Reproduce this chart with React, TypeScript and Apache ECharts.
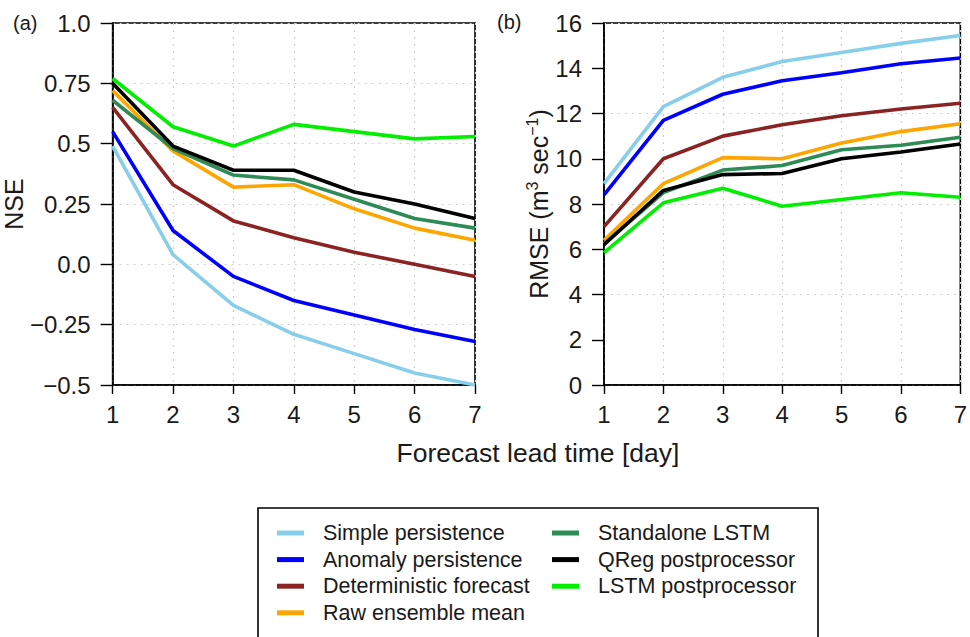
import React, { useEffect, useRef } from "react";
import * as echarts from "echarts";

const days = [1, 2, 3, 4, 5, 6, 7];
const seriesNames = [
  "Simple persistence",
  "Anomaly persistence",
  "Deterministic forecast",
  "Raw ensemble mean",
  "Standalone LSTM",
  "QReg postprocessor",
  "LSTM postprocessor",
];
const seriesColors = ["#87CEEB", "#0000FF", "#8B2323", "#FFA500", "#2E8B57", "#000000", "#00EE00"];

// NSE values (panel a)
const nseSimple = [0.49, 0.04, -0.17, -0.29, -0.37, -0.45, -0.5];
const nseAnomaly = [0.55, 0.14, -0.05, -0.15, -0.21, -0.27, -0.32];
const nseDeterministic = [0.65, 0.33, 0.18, 0.11, 0.05, 0.0, -0.05];
const nseRawMean = [0.72, 0.47, 0.32, 0.33, 0.23, 0.15, 0.1];
const nseStandalone = [0.68, 0.48, 0.37, 0.35, 0.27, 0.19, 0.15];
const nseQReg = [0.75, 0.49, 0.39, 0.39, 0.3, 0.25, 0.19];
const nseLstmPost = [0.77, 0.57, 0.49, 0.58, 0.55, 0.52, 0.53];

// RMSE values (panel b)
const rmseSimple = [8.9, 12.3, 13.6, 14.3, 14.7, 15.1, 15.45];
const rmseAnomaly = [8.4, 11.7, 12.85, 13.45, 13.8, 14.2, 14.45];
const rmseDeterministic = [7.0, 10.0, 11.0, 11.5, 11.9, 12.2, 12.45];
const rmseRawMean = [6.4, 8.9, 10.05, 10.0, 10.7, 11.2, 11.55];
const rmseStandalone = [6.25, 8.5, 9.5, 9.7, 10.4, 10.6, 10.95];
const rmseQReg = [6.2, 8.6, 9.3, 9.35, 10.0, 10.3, 10.65];
const rmseLstmPost = [5.85, 8.05, 8.7, 7.9, 8.2, 8.5, 8.3];

const nseTickValues = [1.0, 0.75, 0.5, 0.25, 0.0, -0.25, -0.5];
const nseTickLabels = ["1.0", "0.75", "0.5", "0.25", "0.0", "\u22120.25", "\u22120.5"];

const nseData = [nseSimple, nseAnomaly, nseDeterministic, nseRawMean, nseStandalone, nseQReg, nseLstmPost];
const rmseData = [rmseSimple, rmseAnomaly, rmseDeterministic, rmseRawMean, rmseStandalone, rmseQReg, rmseLstmPost];

const FONT = "'Liberation Sans', Arial, Helvetica, sans-serif";
const TXT = "#1a1a1a";

export default function App() {
  const ref = useRef<HTMLDivElement>(null);
  useEffect(() => {
    if (!ref.current) return;
    const chart = echarts.init(ref.current, undefined, { renderer: "svg" });

    const gridLine = { show: true, lineStyle: { color: "#cfcfcf", type: [2, 5] as any, width: 1.2 } };
    const xAxisBase = (gi: number) => ({
      type: "value",
      gridIndex: gi,
      min: 1,
      max: 7,
      interval: 1,
      axisLine: { show: true, onZero: false, lineStyle: { color: "#000", width: 1.6 } },
      axisTick: { show: true, length: 9, lineStyle: { color: "#000", width: 1.4 } },
      axisLabel: { color: TXT, fontSize: 24, fontFamily: FONT, margin: 17 },
      splitLine: gridLine,
    });

    const series: any[] = [];
    seriesNames.forEach((name, i) => {
      series.push({
        type: "line",
        name,
        xAxisIndex: 0,
        yAxisIndex: 0,
        data: days.map((d, j) => [d, nseData[i][j]]),
        showSymbol: false,
        symbol: "none",
        lineStyle: { color: seriesColors[i], width: 3.6 },
        itemStyle: { color: seriesColors[i] },
        clip: true,
      });
      series.push({
        type: "line",
        name,
        xAxisIndex: 1,
        yAxisIndex: 1,
        data: days.map((d, j) => [d, rmseData[i][j]]),
        showSymbol: false,
        symbol: "none",
        lineStyle: { color: seriesColors[i], width: 3.6 },
        itemStyle: { color: seriesColors[i] },
        clip: true,
      });
    });

    const legendBase = {
      orient: "vertical",
      top: 521,
      padding: 0,
      itemGap: 2.6,
      itemWidth: 27,
      itemHeight: 5,
      icon: "rect",
      selectedMode: false,
      textStyle: { color: TXT, fontSize: 21.5, fontFamily: FONT, lineHeight: 24, padding: [0, 0, 0, 14] },
    };

    chart.setOption({
      animation: false,
      backgroundColor: "#fff",
      grid: [
        { left: 112, top: 23, width: 363, height: 362, show: true, borderColor: "#000", borderWidth: 1.6, backgroundColor: "transparent" },
        { left: 604, top: 23, width: 363, height: 362, show: true, borderColor: "#000", borderWidth: 1.6, backgroundColor: "transparent" },
      ],
      xAxis: [xAxisBase(0), xAxisBase(1)],
      yAxis: [
        {
          type: "value",
          gridIndex: 0,
          min: -0.5,
          max: 1.0,
          interval: 0.25,
          name: "NSE",
          nameLocation: "middle",
          nameGap: 70,
          nameTextStyle: { color: TXT, fontSize: 25, fontFamily: FONT },
          axisLine: { show: true, onZero: false, lineStyle: { color: "#000", width: 1.6 } },
          axisTick: { show: true, length: 12, lineStyle: { color: "#000", width: 1.4 } },
          axisLabel: {
            color: TXT,
            fontSize: 24,
            fontFamily: FONT,
            margin: 22,
            formatter: (v: number) => {
              const k = nseTickValues.findIndex((t) => Math.abs(t - v) < 1e-9);
              return k >= 0 ? nseTickLabels[k] : String(v);
            },
          },
          splitLine: gridLine,
        },
        {
          type: "value",
          gridIndex: 1,
          min: 0,
          max: 16,
          interval: 2,
          name: "RMSE (m{sup|3} sec{sup|\u22121})",
          nameLocation: "middle",
          nameGap: 50,
          nameTextStyle: {
            color: TXT,
            fontSize: 25,
            fontFamily: FONT,
            rich: {
              sup: { fontSize: 16, fontFamily: FONT, color: TXT, verticalAlign: "top", padding: [0, 0, 12, 0] },
            },
          },
          axisLine: { show: true, onZero: false, lineStyle: { color: "#000", width: 1.6 } },
          axisTick: { show: true, length: 12, lineStyle: { color: "#000", width: 1.4 } },
          axisLabel: { color: TXT, fontSize: 24, fontFamily: FONT, margin: 22 },
          splitLine: { show: false },
        },
        {
          type: "value",
          gridIndex: 1,
          min: 0,
          max: 16,
          interval: 4,
          axisLine: { show: false },
          axisTick: { show: false },
          axisLabel: { show: false },
          splitLine: gridLine,
        },
      ],
      legend: [
        { ...legendBase, left: 277, data: seriesNames.slice(0, 4) },
        { ...legendBase, left: 552, data: seriesNames.slice(4) },
      ],
      graphic: [
        {
          type: "text",
          left: 13,
          top: 13,
          style: { text: "(a)", fontSize: 20, fontFamily: FONT, fill: TXT },
        },
        {
          type: "text",
          left: 497,
          top: 12,
          style: { text: "(b)", fontSize: 20, fontFamily: FONT, fill: TXT },
        },
        {
          type: "text",
          x: 538,
          y: 453,
          style: {
            text: "Forecast lead time [day]",
            fontSize: 26.5,
            fontFamily: FONT,
            fill: TXT,
            align: "center",
            verticalAlign: "middle",
          },
        },
        {
          type: "rect",
          shape: { x: 258, y: 508, width: 560, height: 200 },
          style: { fill: "none", stroke: "#000", lineWidth: 1.6 },
          z: 10,
        },
      ],
      series,
    });

    return () => chart.dispose();
  }, []);

  return (
    <div
      ref={ref}
      style={{ position: "fixed", left: 0, top: 0, width: 970, height: 637, background: "#fff" }}
    />
  );
}
